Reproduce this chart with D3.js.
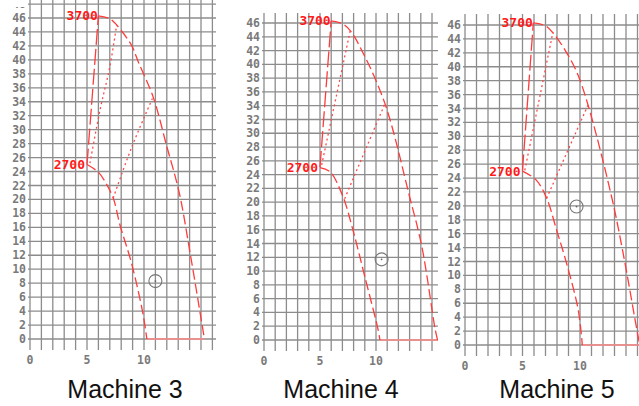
<!DOCTYPE html>
<html><head><meta charset="utf-8">
<script src="https://cdn.jsdelivr.net/npm/d3@7"></script>
<style>body{margin:0;background:#fff}svg{display:block}</style>
</head><body>
<svg id="c" width="639" height="406"></svg>
<script>
// ---- data ----
const machines = ["Machine 3", "Machine 4", "Machine 5"];
const yTicks = d3.range(0, 50, 2);
const xTicks = [0, 5, 10];
const speedLabels = ["3700", "2700"];

const speed3700 = [
  [[6.0,46.3],[7.0,45.9],[7.6,45.0],[8.9,42.1],[9.5,39.7],[10.8,34.7],[12.0,27.6],[13.1,20.9],[14.0,12.75],[15.3,0]],
  [[6.0,46.3],[7.0,45.9],[7.7,44.9],[8.8,41.8],[10.8,34.3],[13.0,20.8],[14.1,13.5],[15.3,1.4],[15.5,0]],
  [[5.94,46.3],[7.0,45.9],[7.68,44.8],[8.7,42.4],[9.7,39.3],[10.7,34.5],[12.75,21.3],[13.75,13.2],[15.0,1.7],[15.2,0]]
];
const speed2700 = [
  [[5.0,25.0],[6.0,23.9],[6.6,22.5],[7.3,20.2],[7.9,16.3],[8.9,10.9],[9.9,3.7],[10.25,0]],
  [[5.0,25.0],[5.9,24.4],[7.05,20.8],[7.95,15.9],[9.0,9.2],[10.2,1.4],[10.35,0]],
  [[5.0,25.0],[6.2,23.7],[7.1,21.1],[7.97,16.5],[8.84,11.7],[9.85,5.0],[10.2,0]]
];
const riseLine = [
  [[5.0,25.0],[6.0,46.3]],
  [[5.0,25.1],[6.0,46.3]],
  [[5.0,25.1],[5.94,46.3]]
];
const dottedA = [
  [[5.26,25.2],[6.14,32.8],[7.0,39.0],[7.6,45.0]],
  [[5.15,25.4],[7.7,44.9]],
  [[5.2,25.1],[7.65,45.0]]
];
const dottedB = [
  [[7.3,20.2],[8.9,27.4],[10.8,34.7]],
  [[7.2,20.5],[10.8,34.3]],
  [[7.1,21.1],[10.7,34.5]]
];
const baseLine = [
  [[10.25,0],[15.3,0]],
  [[10.35,0],[15.6,0]],
  [[10.2,0],[16,0]]
];
const opPoint = [[11.0,8.3],[10.5,11.7],[9.7,19.9]];

// ---- layout ----
const panels = [
  {x0:30,  x1:212.4, xMax:16, y0:339, y46:18, top:0,  right:216, labTop:7,  title:125},
  {x0:264, x1:432,   xMax:15, y0:340, y46:23, top:13, right:438, labTop:14, title:341},
  {x0:465, x1:637.5, xMax:15, y0:345, y46:25, top:14, right:639, labTop:16, title:557}
];

const svg = d3.select("#c");
const defs = svg.append("defs");

panels.forEach((p, i) => {
  const x = d3.scaleLinear().domain([0, p.xMax]).range([p.x0, p.x1]);
  const y = d3.scaleLinear().domain([0, 46]).range([p.y0, p.y46]);
  const g = svg.append("g");

  defs.append("clipPath").attr("id", "clip" + i).append("rect")
    .attr("x", p.x0 - 3).attr("y", p.top).attr("width", p.right - p.x0 + 3).attr("height", p.y0 + 14 - p.top);
  defs.append("clipPath").attr("id", "lclip" + i).append("rect")
    .attr("x", p.x0 - 40).attr("y", p.labTop).attr("width", 40).attr("height", 400);

  const grid = g.append("g").attr("clip-path", `url(#clip${i})`);
  grid.selectAll("line.v").data(d3.range(0, p.xMax + 1)).join("line")
    .attr("x1", d => x(d)).attr("x2", d => x(d))
    .attr("y1", p.top).attr("y2", p.y0 + 11)
    .attr("stroke", "#8c8c8c").attr("stroke-width", 1.3);
  grid.selectAll("line.h").data(yTicks).join("line")
    .attr("x1", p.x0 - 2).attr("x2", p.right)
    .attr("y1", d => y(d)).attr("y2", d => y(d))
    .attr("stroke", "#8c8c8c").attr("stroke-width", 1.3);

  g.append("g").attr("clip-path", `url(#lclip${i})`)
    .selectAll("text").data(yTicks).join("text")
    .attr("x", p.x0 - 4).attr("y", d => y(d)).attr("dy", "0.35em")
    .attr("text-anchor", "end")
    .attr("font-family", "DejaVu Sans Mono").attr("font-weight", "bold")
    .attr("font-size", 11.5).attr("fill", "#7a7a7a")
    .text(d => d);
  g.selectAll("text.x").data(xTicks).join("text")
    .attr("x", d => x(d)).attr("y", p.y0 + 21).attr("dy", "0.35em")
    .attr("text-anchor", "middle")
    .attr("font-family", "DejaVu Sans Mono").attr("font-weight", "bold")
    .attr("font-size", 11.5).attr("fill", "#7a7a7a")
    .text(d => d);

  const curves = g.append("g").attr("clip-path", `url(#clip${i})`).attr("fill", "none");
  const lineC = d3.line().x(d => x(d[0])).y(d => y(d[1])).curve(d3.curveCatmullRom.alpha(0.5));
  const lineL = d3.line().x(d => x(d[0])).y(d => y(d[1])).curve(d3.curveCatmullRom);

  curves.append("path").attr("d", lineL(baseLine[i]))
    .attr("stroke", "#ff8a8a").attr("stroke-width", 1.4);
  curves.append("path").attr("d", lineC(speed3700[i]))
    .attr("stroke", "#ff3b3b").attr("stroke-width", 1.3).attr("stroke-dasharray", "10,4");
  curves.append("path").attr("d", lineC(speed2700[i]))
    .attr("stroke", "#ff3b3b").attr("stroke-width", 1.3).attr("stroke-dasharray", "10,4");
  curves.append("path").attr("d", lineL(riseLine[i]))
    .attr("stroke", "#ff3b3b").attr("stroke-width", 1.3).attr("stroke-dasharray", "16,4");
  curves.append("path").attr("d", lineL(dottedA[i]))
    .attr("stroke", "#ff4a4a").attr("stroke-width", 1.3).attr("stroke-dasharray", "2,3");
  curves.append("path").attr("d", lineL(dottedB[i]))
    .attr("stroke", "#ff4a4a").attr("stroke-width", 1.3).attr("stroke-dasharray", "2,3");

  const labelPos = [speed3700[i][0], speed2700[i][0]];
  g.selectAll("text.s").data(speedLabels).join("text")
    .attr("x", (d, k) => x(labelPos[k][0]) - (k === 0 ? 0.5 : 2))
    .attr("y", (d, k) => y(labelPos[k][1])).attr("dy", "0.35em")
    .attr("text-anchor", "end")
    .attr("font-family", "DejaVu Sans Mono").attr("font-weight", "bold")
    .attr("font-size", 13).attr("fill", "#ff1a1a")
    .text(d => d);

  const op = opPoint[i];
  g.append("circle").attr("cx", x(op[0])).attr("cy", y(op[1])).attr("r", 6.5)
    .attr("fill", "none").attr("stroke", "#777").attr("stroke-width", 1.1);
  g.append("circle").attr("cx", x(op[0])).attr("cy", y(op[1])).attr("r", 0.9).attr("fill", "#666");

  g.append("text").attr("x", p.title).attr("y", 398)
    .attr("text-anchor", "middle")
    .attr("font-family", "Liberation Sans, Arial, sans-serif")
    .attr("font-size", 25).attr("fill", "#111")
    .text(machines[i]);
});
</script>
</body></html>
